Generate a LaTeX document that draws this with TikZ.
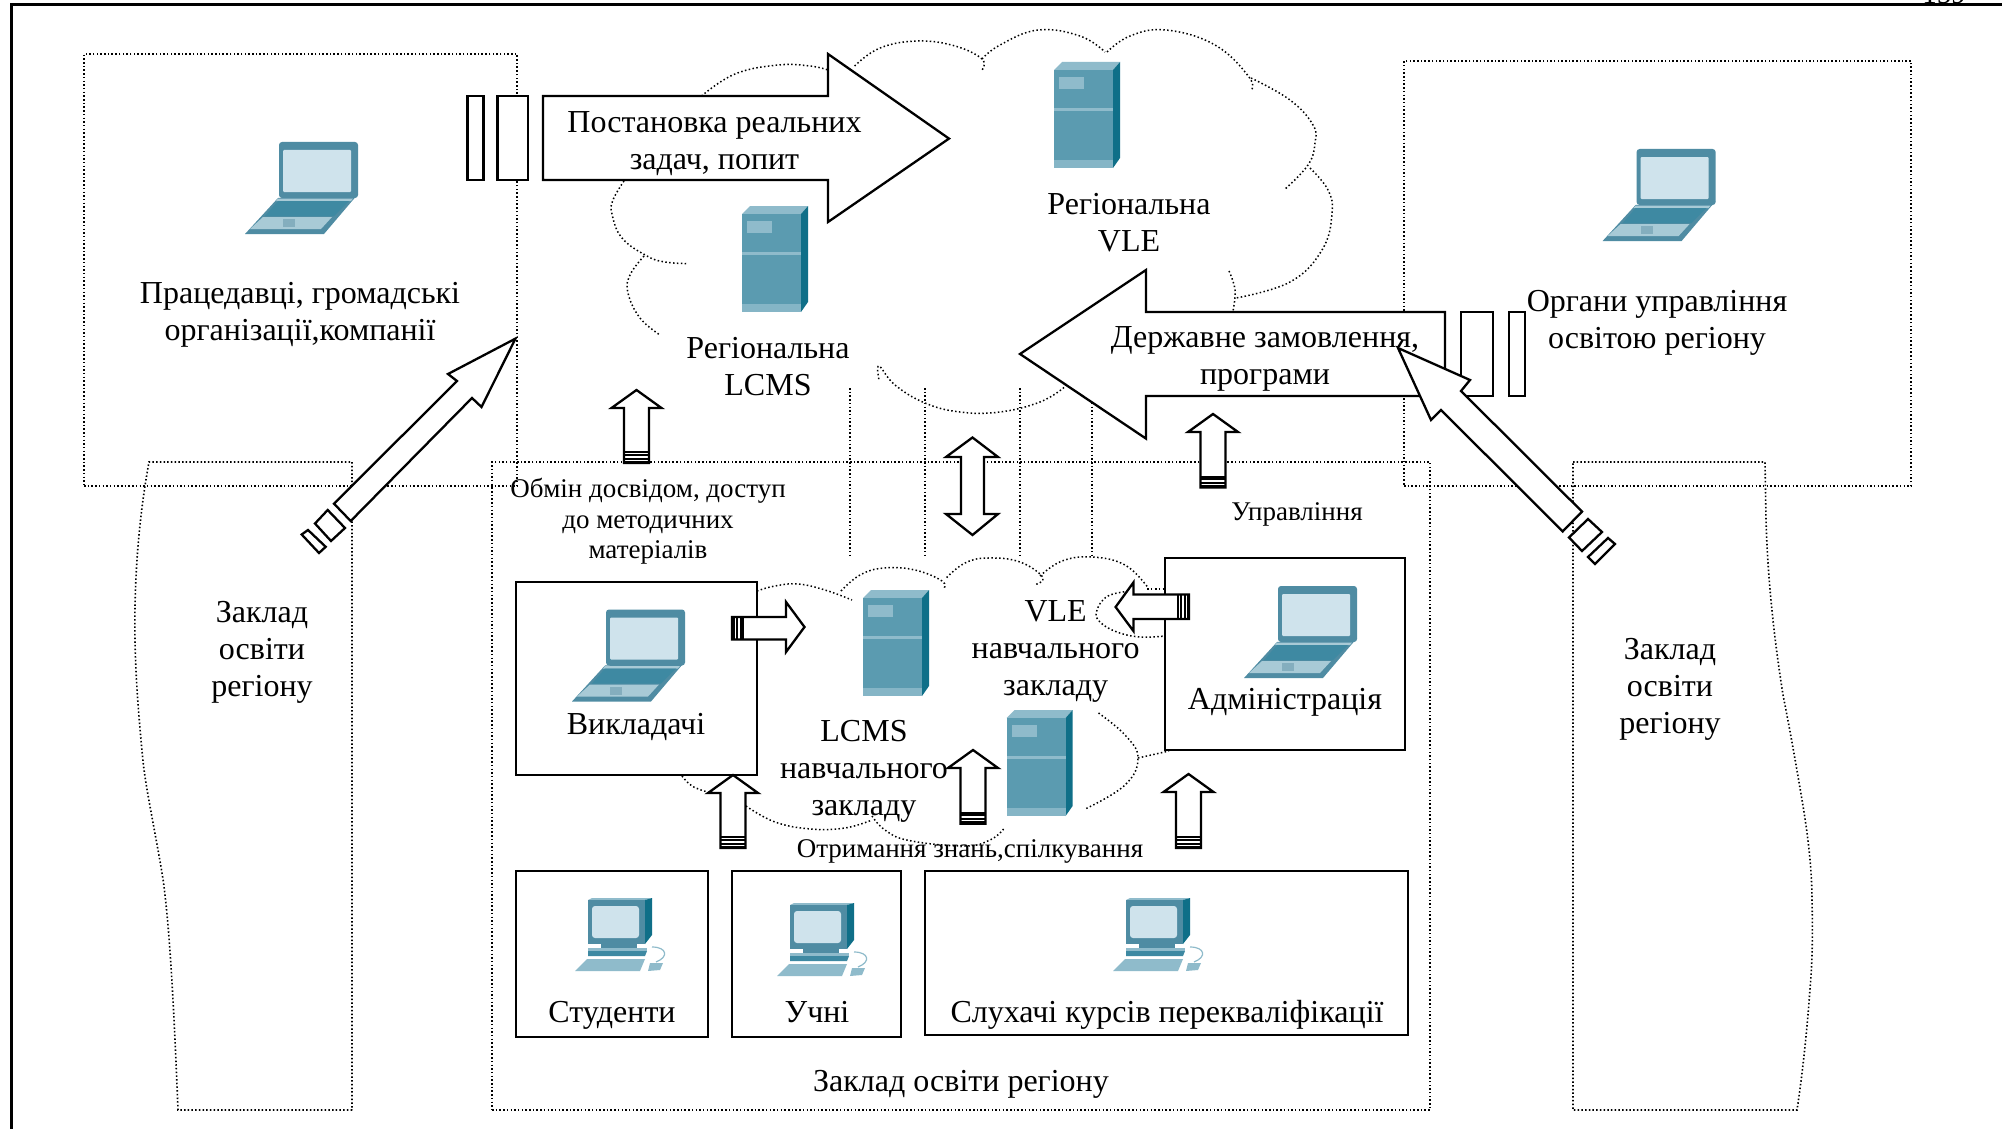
\documentclass[tikz,border=0pt]{standalone}
\usepackage{fontspec}
\setmainfont{Liberation Serif}
\definecolor{icmid}{HTML}{5B9BB0}
\definecolor{icdark}{HTML}{0F6F88}
\definecolor{icframe}{HTML}{4F8CA3}
\definecolor{ickey}{HTML}{3E89A2}
\definecolor{iclight}{HTML}{8FBBCB}
\definecolor{icpale}{HTML}{A8CAD6}
\definecolor{icscreen}{HTML}{CFE3EC}
\tikzset{
  zone/.style={draw,line width=1.6pt,dash pattern=on 1.5pt off 2.2pt,inner sep=0,outer sep=0},
  zoneline/.style={line width=1.6pt,dash pattern=on 1.5pt off 2.2pt},
  cloudline/.style={line width=1.5pt,dash pattern=on 1.5pt off 2.4pt},
  sbox/.style={draw,line width=2pt,fill=white,inner sep=0,outer sep=0},
  block/.style={draw,line width=2.3pt,fill=white,line join=miter},
  stripe/.style={line width=2pt},
  big/.style={font=\fontsize{32}{37}\selectfont,align=center,inner sep=0},
  small/.style={font=\fontsize{27}{30.5}\selectfont,align=center,inner sep=0},
  laptop/.pic={
    \fill[icframe,rounded corners=3pt] (34,0) rectangle (113,56);
    \fill[icscreen,rounded corners=1pt] (38,8) rectangle (106,50);
    \fill[icframe] (33,56) -- (113,52) -- (79,92) -- (0,92) -- cycle;
    \fill[icpale] (33,56.5) -- (108,56.5) -- (106,59) -- (31,59) -- cycle;
    \fill[ickey] (33,59) -- (104,59) -- (89,74) -- (20,74) -- cycle;
    \fill[icpale] (18,75) -- (87,75) -- (76,87) -- (5,87) -- cycle;
    \fill[icframe!70!white] (38,77) rectangle (50,85);
  },
  server/.pic={
    \fill[iclight] (0,8) -- (8,0) -- (66,0) -- (59,8) -- cycle;
    \fill[icdark] (59,8) -- (66,0) -- (66,96) -- (59,106) -- cycle;
    \fill[icmid] (0,8) rectangle (59,106);
    \fill[iclight] (5,15) rectangle (30,27);
    \fill[iclight] (0,46) rectangle (59,49);
    \fill[iclight!80!icmid] (0,98) rectangle (59,106);
  },
  desktop/.pic={
    \fill[iclight] (11,3) -- (15,1) -- (75,1) -- (68,3) -- cycle;
    \fill[icdark] (68,3) -- (75,1) -- (75,38) -- (68,47) -- cycle;
    \fill[icframe] (11,3) rectangle (68,47);
    \fill[icscreen,rounded corners=3pt] (15,9) rectangle (62,41);
    \fill[icframe] (24,47) rectangle (60,51);
    \fill[iclight] (11,51) rectangle (70,54);
    \fill[ickey] (11,54) -- (70,54) -- (68,59) -- (11,59) -- cycle;
    \fill[iclight] (10,62) -- (68,62) -- (63,74) -- (-2,74) -- cycle;
    \fill[iclight] (73,66) -- (86,66) -- (83,73) -- (71,74) -- cycle;
    \draw[iclight,line width=1.2pt] (75,50) .. controls (90,50) and (92,60) .. (79,65);
  }
}
\newcommand{\upblock}[3]{%
  \draw[block] (#1,#2) -- (#1+25,#2+18) -- (#1+12.5,#2+18) -- (#1+12.5,#3) -- (#1-12.5,#3) -- (#1-12.5,#2+18) -- (#1-25,#2+18) -- cycle;
  \foreach \s in {1.5,4.5,8.5,11}{\draw[stripe] (#1-12.5,#3-\s) -- (#1+12.5,#3-\s);}
}
\begin{document}
\begin{tikzpicture}[x=1pt,y=-1pt]
\path[use as bounding box,fill=white] (0,0) rectangle (2002,1129);
\clip (0,0) rectangle (2002,1129);
% page number and sheet frame
\node[anchor=base,font=\fontsize{29}{30}\selectfont,inner sep=0] (pagenum) at (1944,4) {159};
\draw[line width=3pt] (11,1129) -- (11,5) -- (2002,5);
% dotted zones
\node[zone,minimum width=433pt,minimum height=432pt] (employers) at (300.5,270) {};
\node[zone,minimum width=507pt,minimum height=425pt] (authority) at (1657.5,273.5) {};
\node[zone,minimum width=938pt,minimum height=648pt] (school) at (961,786) {};
\draw[zoneline] (352,1110) -- (178,1110) .. controls (174,1010) and (170,930) .. (163,879)
  .. controls (155,830) and (146,790) .. (143,761) .. controls (138,710) and (134,660) .. (135,607)
  .. controls (136,550) and (142,500) .. (149,462) -- (352,462) -- cycle;
\draw[zoneline] (1573,462) -- (1765,462) -- (1766,520) .. controls (1768,590) and (1776,650) .. (1783,695)
  .. controls (1790,730) and (1797,770) .. (1802,800) .. controls (1808,835) and (1812,870) .. (1812,901)
  .. controls (1813,940) and (1812,965) .. (1810,989) .. controls (1807,1030) and (1803,1070) .. (1797,1110) -- (1573,1110) -- cycle;
% regional cloud
\foreach \p in {
  {(701.5,96) (735,74) (778,65) (810,66) (828,70)},
  {(854.6,66) (880,48) (918,41) (955,46) (982,59) (982,70)},
  {(982,59) (1000,45) (1038,30) (1080,36) (1105,52)},
  {(1107,52) (1130,36) (1166,30) (1215,45) (1249,77) (1251,91)},
  {(1251,78) (1290,100) (1313,125) (1315,143) (1308,165) (1284,190)},
  {(1310,168) (1328,190) (1332,214) (1322,250) (1290,282) (1236,298)},
  {(1229,271) (1235,290) (1233,311)},
  {(1064,387.5) (1040,402) (1000,412) (960,412) (925,403) (895,385) (879,366) (879,380)},
  {(624,181) (613,200) (612,214) (622,238) (647,256) (665,262) (687.5,263.6)},
  {(644,256) (630,275) (628,293) (640,318) (660,335)}}
{\draw[cloudline] plot[smooth,tension=.7] coordinates {\p};}
% links between the two clouds
\foreach \xa in {850,925,1020,1092}{\draw[zoneline] (\xa,388) -- (\xa,556);}
% institution cloud
\foreach \p in {
  {(757,591) (775,586) (798,584) (825,590) (852,600)},
  {(841,591) (860,575) (884,568) (915,570) (942,581) (943.6,589)},
  {(946.6,577.6) (965,563) (988,558) (1020,562) (1043,577.6) (1034,585)},
  {(1040,576) (1062,561) (1092,557) (1125,565) (1147.5,587)},
  {(1147,589) (1165,589)},
  {(1132,591) (1108,596) (1096.7,611) (1100,622) (1117,632) (1140,637) (1164.6,636)},
  {(1098.5,713) (1125,735) (1138,758) (1125,785) (1086,808.6)},
  {(1138,758) (1169,751)},
  {(682,776) (692,786) (706.6,791.7)},
  {(746,806) (775,822) (811,829) (845,828) (872,820)},
  {(872,816) (885,830) (909,840.5) (964,846) (990,840) (1003.6,829)}}
{\draw[cloudline] plot[smooth,tension=.7] coordinates {\p};}
% solid boxes
\node[sbox,minimum width=241.5pt,minimum height=193pt] (teachers) at (636.25,678.5) {};
\node[sbox,minimum width=240pt,minimum height=192pt] (admin) at (1284.6,654) {};
\node[sbox,minimum width=192.5pt,minimum height=166pt] (students) at (611.75,953.6) {};
\node[sbox,minimum width=168.7pt,minimum height=166pt] (pupils) at (816.35,953.6) {};
\node[sbox,minimum width=483.4pt,minimum height=164.4pt] (listeners) at (1166.3,952.8) {};
% large block arrows
\draw[block] (543,96) -- (828,96) -- (828,54) -- (949,138.6) -- (828,222) -- (828,180) -- (543,180) -- cycle;
\draw[block] (467.5,96) rectangle (483.5,180);
\draw[block] (497.5,96) rectangle (528,180);
\draw[block] (1445,312) -- (1146,312) -- (1146,270) -- (1020,354) -- (1146,438.6) -- (1146,396) -- (1445,396) -- cycle;
\draw[block] (1461,312) rectangle (1493,396);
\draw[block] (1509,312) rectangle (1525,396);
% diagonal arrows
\draw[block] (334,503.7) -- (457,381) -- (448,374) -- (515.5,338.6) -- (481.5,407) -- (472,398) -- (350.7,521) -- cycle;
\draw[block] (315,523.5) -- (327.7,510) -- (345,528) -- (331,541) -- cycle;
\draw[block] (301.7,534.5) -- (308,530) -- (325.7,546.8) -- (319,553) -- cycle;
\draw[block] (1582,511.6) -- (1461,391) -- (1470,380) -- (1398,348) -- (1431,420) -- (1441,410) -- (1562.7,531.4) -- cycle;
\draw[block] (1588,519) -- (1602,532) -- (1582,551) -- (1569,537.5) -- cycle;
\draw[block] (1608,538) -- (1615,544) -- (1595,564) -- (1588,557) -- cycle;
% vertical block arrows
\upblock{636.5}{390}{463}
\upblock{1213}{414}{487.5}
\upblock{733}{775}{848}
\upblock{973}{750}{823.6}
\upblock{1188.5}{774}{848}
\draw[block] (972.5,437.5) -- (998,457) -- (984,457) -- (984,514) -- (998,514) -- (972.5,535) -- (946,514) -- (961,514) -- (961,457) -- (946,457) -- cycle;
% horizontal small arrows
\draw[block] (732,617) -- (786,617) -- (786,602) -- (804.5,627) -- (786,652) -- (786,639.5) -- (732,639.5) -- cycle;
\foreach \s in {733.5,736.5,740.5,743}{\draw[stripe] (\s,617) -- (\s,639.5);}
\draw[block] (1189,594.5) -- (1133.4,594.5) -- (1133.4,582.5) -- (1115.6,607) -- (1133.4,631) -- (1133.4,619) -- (1189,619) -- cycle;
\foreach \s in {1187.5,1184.5,1180.5,1178}{\draw[stripe] (\s,594.5) -- (\s,619);}
% icons
\pic at (245,142) {laptop};
\pic at (1602.6,149) {laptop};
\pic at (572,609.5) {laptop};
\pic at (1244,586) {laptop};
\pic at (742,206) {server};
\pic at (1054,62) {server};
\pic at (863,590) {server};
\pic at (1006.6,710) {server};
\pic at (577,897) {desktop};
\pic at (779,902) {desktop};
\pic at (1115,897) {desktop};
% texts
\node[big] (t1) at (714.5,143.5) {Постановка реальних\\задач, попит};
\node[big] (t2) at (300,315) {Працедавці, громадські\\організації,компанії};
\node[big] (t3) at (768,367) {Регіональна\\LCMS};
\node[big] (t4) at (1129,222.5) {Регіональна\\VLE};
\node[big] (t5) at (1657,322.5) {Органи управління\\освітою регіону};
\node[big] (t6) at (1265,358.5) {Державне замовлення,\\програми};
\node[small] (t7) at (648,521.5) {Обмін досвідом, доступ\\до методичних\\матеріалів};
\node[small] (t8) at (1297,514) {Управління};
\node[big] (t9) at (1055.6,651.5) {VLE\\навчального\\закладу};
\node[big] (t10) at (864,771.5) {LCMS\\навчального\\закладу};
\node[big] (t11) at (636,726.5) {Викладачі};
\node[big] (t12) at (1285,702.5) {Адміністрація};
\node[small] (t13) at (970,851) {Отримання знань,спілкування};
\node[big,anchor=base] (t14) at (612,1022) {Студенти};
\node[big,anchor=base] (t15) at (817,1022) {Учні};
\node[big,anchor=base] (t16) at (1167,1022) {Слухачі курсів перекваліфікації};
\node[big] (t17) at (961,1084.5) {Заклад освіти регіону};
\node[big] (t18) at (262,652) {Заклад\\освіти\\регіону};
\node[big] (t19) at (1670,689.5) {Заклад\\освіти\\регіону};
\end{tikzpicture}
\end{document}
